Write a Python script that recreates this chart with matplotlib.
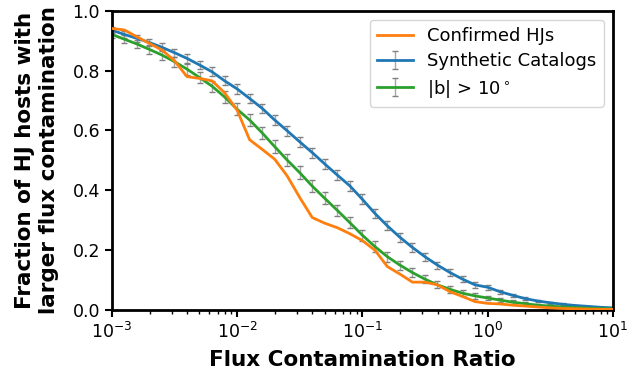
import numpy as np
import matplotlib
matplotlib.use("Agg")
import matplotlib.pyplot as plt

# log10 of flux contamination ratio, evaluated every 0.1 dex
log_ratio = [-3.0, -2.9, -2.8, -2.7, -2.6, -2.5, -2.4, -2.3, -2.2, -2.1,
             -2.0, -1.9, -1.8, -1.7, -1.6, -1.5, -1.4, -1.3, -1.2, -1.1,
             -1.0, -0.9, -0.8, -0.7, -0.6, -0.5, -0.4, -0.3, -0.2, -0.1,
             0.0, 0.1, 0.2, 0.3, 0.4, 0.5, 0.6, 0.7, 0.8, 0.9, 1.0]

confirmed = [0.941, 0.936, 0.913, 0.891, 0.869, 0.833, 0.780, 0.774, 0.766, 0.726,
             0.668, 0.569, 0.537, 0.504, 0.448, 0.376, 0.309, 0.290, 0.275, 0.255,
             0.232, 0.200, 0.145, 0.120, 0.093, 0.093, 0.084, 0.061, 0.045, 0.028,
             0.022, 0.020, 0.016, 0.013, 0.010, 0.007, 0.005, 0.004, 0.003, 0.002, 0.002]

synthetic = [0.935, 0.921, 0.908, 0.894, 0.878, 0.860, 0.841, 0.819, 0.796, 0.766,
             0.739, 0.707, 0.674, 0.635, 0.599, 0.562, 0.526, 0.488, 0.451, 0.415,
             0.370, 0.323, 0.281, 0.243, 0.209, 0.178, 0.150, 0.125, 0.103, 0.084,
             0.076, 0.061, 0.049, 0.038, 0.030, 0.024, 0.019, 0.015, 0.012, 0.009, 0.007]

synthetic_err = [0.010, 0.011, 0.012, 0.012, 0.013, 0.013, 0.014, 0.014, 0.015, 0.015,
                 0.016, 0.016, 0.016, 0.017, 0.017, 0.017, 0.017, 0.017, 0.017, 0.016,
                 0.016, 0.016, 0.015, 0.015, 0.014, 0.013, 0.012, 0.011, 0.010, 0.009,
                 0.008, 0.007, 0.006, 0.005, 0.004, 0.004, 0.003, 0.003, 0.002, 0.002, 0.002]

high_lat = [0.921, 0.905, 0.889, 0.871, 0.852, 0.830, 0.805, 0.777, 0.748, 0.712,
            0.671, 0.635, 0.592, 0.546, 0.501, 0.459, 0.414, 0.373, 0.333, 0.292,
            0.250, 0.212, 0.178, 0.150, 0.125, 0.103, 0.084, 0.069, 0.056, 0.047,
            0.040, 0.033, 0.026, 0.021, 0.016, 0.013, 0.010, 0.008, 0.006, 0.005, 0.004]

high_lat_err = [0.012, 0.013, 0.014, 0.015, 0.016, 0.017, 0.018, 0.019, 0.019, 0.020,
                0.020, 0.021, 0.021, 0.021, 0.021, 0.021, 0.020, 0.020, 0.019, 0.019,
                0.018, 0.017, 0.016, 0.015, 0.014, 0.013, 0.012, 0.011, 0.010, 0.009,
                0.008, 0.007, 0.006, 0.005, 0.004, 0.004, 0.003, 0.003, 0.002, 0.002, 0.002]

ratio = 10.0 ** np.array(log_ratio)

fig = plt.figure(figsize=(6.43, 3.73), dpi=100)
ax = fig.add_axes([0.174, 0.169, 0.779, 0.802])

ax.plot(ratio, confirmed, color="C1", lw=2, label="Confirmed HJs", zorder=3)
ax.errorbar(ratio, synthetic, yerr=synthetic_err, color="C0", lw=2,
            ecolor="gray", elinewidth=1, capsize=2,
            label="Synthetic Catalogs", zorder=2)
ax.errorbar(ratio, high_lat, yerr=high_lat_err, color="C2", lw=2,
            ecolor="gray", elinewidth=1, capsize=2,
            label=r"|b| > 10$^\circ$", zorder=2)

for coll in ax.collections:
    coll.set_alpha(0.7)

ax.set_xscale("log")
ax.set_xlim(1e-3, 1e1)
ax.set_ylim(0.0, 1.0)
ax.set_yticks([0.0, 0.2, 0.4, 0.6, 0.8, 1.0])

for side in ax.spines.values():
    side.set_linewidth(2)
ax.tick_params(which="major", length=5, width=1.5, labelsize=12.5)
ax.tick_params(which="minor", length=3, width=1)

ax.set_xlabel("Flux Contamination Ratio", fontsize=15.5, fontweight="bold", labelpad=6)
ax.set_ylabel("Fraction of HJ hosts with\nlarger flux contamination",
              fontsize=15.5, fontweight="bold", labelpad=10)

ax.legend(loc="upper right", fontsize=13, labelspacing=0.4)

fig.savefig("out.png", dpi=100)
